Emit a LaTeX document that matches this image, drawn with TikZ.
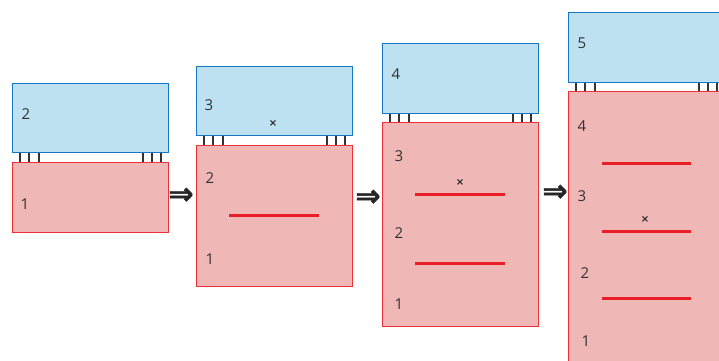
\documentclass[tikz,border=0pt]{standalone}
\usepackage{fontspec}
\setmainfont{Open Sans}
\newfontfamily\symfont{DejaVu Sans}
\newfontfamily\arrfont[FakeBold=1.5]{DejaVu Sans Bold}
\definecolor{bfill}{RGB}{190,225,242}
\definecolor{bdraw}{RGB}{22,120,196}
\definecolor{rfill}{RGB}{239,183,182}
\definecolor{rdraw}{RGB}{236,50,56}
\definecolor{rline}{RGB}{232,30,38}
\definecolor{txt}{RGB}{50,50,50}
\tikzset{
  bluebox/.style={draw=bdraw,fill=bfill,line width=1.5pt,inner sep=0pt,anchor=north west,minimum width=156pt},
  redbox/.style={draw=rdraw,fill=rfill,line width=1.5pt,inner sep=0pt,anchor=north west,minimum width=156pt},
  leg/.style={draw=black!80,line width=2pt},
  sep/.style={draw=rline,line width=3pt},
  lab/.style={text=txt,font=\fontsize{15}{15}\selectfont,inner sep=0pt},
  xmark/.style={text=black!85,font=\symfont\bfseries\fontsize{10}{10}\selectfont,inner sep=0pt},
  arr/.style={text=black!85,font=\arrfont\fontsize{30}{30}\selectfont,inner sep=0pt}
}
\newcommand{\legs}[2]{%
  \foreach \o in {8,17,27}{\draw[leg] ([xshift=\o pt]#1.south west) -- ([xshift=\o pt]#2.north west);}
  \foreach \o in {8,17,26}{\draw[leg] ([xshift=-\o pt]#1.south east) -- ([xshift=-\o pt]#2.north east);}
}
\begin{document}
\begin{tikzpicture}[x=1pt,y=-1pt]
\useasboundingbox (0,0) rectangle (719,360);
\clip (0,0) rectangle (719,360);
% panel 1
\node[bluebox,minimum height=69pt] (b1) at (11.5,82.5) {};
\node[redbox,minimum height=70pt] (r1) at (11.5,161.5) {};
\legs{b1}{r1}
\node[lab] (t12) at (26,114) {2};
\node[lab] (t11) at (25,204) {1};
% arrow 1
\node[arr] (a1) at (181,196) {⇒};
% panel 2
\node[bluebox,minimum height=69pt] (b2) at (195.5,65.5) {};
\node[redbox,minimum height=141pt] (r2) at (195.5,144.5) {};
\legs{b2}{r2}
\node[lab] (t23) at (209,105) {3};
\node[xmark] (x2) at (273,123) {×};
\node[lab] (t22) at (210,178) {2};
\coordinate (s2a) at (229,215); \coordinate (s2b) at (319,215);
\draw[sep] (s2a) -- (s2b);
\node[lab] (t21) at (210,259) {1};
% arrow 2
\node[arr] (a2) at (368,198) {⇒};
% panel 3
\node[bluebox,minimum height=70pt] (b3) at (381.5,42.5) {};
\node[redbox,minimum height=204pt] (r3) at (381.5,121.5) {};
\legs{b3}{r3}
\node[lab] (t34) at (396,74) {4};
\node[lab] (t33) at (399,156) {3};
\node[xmark] (x3) at (460,182) {×};
\coordinate (s3a) at (415,194); \coordinate (s3b) at (505,194);
\draw[sep] (s3a) -- (s3b);
\node[lab] (t32) at (399,233) {2};
\coordinate (s3c) at (415,263); \coordinate (s3d) at (505,263);
\draw[sep] (s3c) -- (s3d);
\node[lab] (t31) at (399,304) {1};
% arrow 3
\node[arr] (a3) at (555,193) {⇒};
% panel 4
\node[bluebox,minimum height=70pt] (b4) at (567.5,11.5) {};
\node[redbox,minimum height=290pt] (r4) at (567.5,90.5) {};
\legs{b4}{r4}
\node[lab] (t45) at (582,43) {5};
\node[lab] (t44) at (582,126) {4};
\coordinate (s4a) at (602,163); \coordinate (s4b) at (691,163);
\draw[sep] (s4a) -- (s4b);
\node[lab] (t43) at (582,196) {3};
\node[xmark] (x4) at (645,219) {×};
\coordinate (s4c) at (602,231); \coordinate (s4d) at (691,231);
\draw[sep] (s4c) -- (s4d);
\node[lab] (t42) at (585,273) {2};
\coordinate (s4e) at (602,298); \coordinate (s4f) at (691,298);
\draw[sep] (s4e) -- (s4f);
\node[lab] (t41) at (586,341) {1};
\end{tikzpicture}
\end{document}
